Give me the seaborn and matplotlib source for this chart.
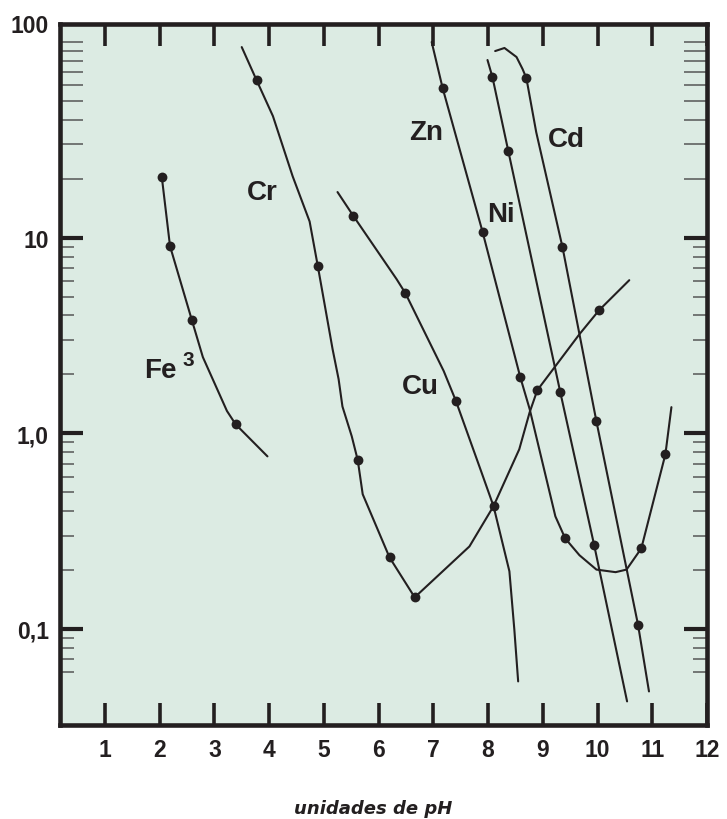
import matplotlib
matplotlib.use("Agg")
import matplotlib.pyplot as plt
import numpy as np
import pandas as pd
import seaborn as sns
from matplotlib.ticker import FixedLocator, NullFormatter

# ---------------- data ----------------
fe_ph = [2.04, 2.19, 2.59, 2.79, 3.23, 3.39, 3.97]
fe_val = [20.4, 9.05, 3.78, 2.45, 1.30, 1.11, 0.762]
fe_dot_ph = [2.04, 2.19, 2.59, 3.39]
fe_dot_val = [20.4, 9.05, 3.78, 1.11]

cr_ph = [3.50, 3.77, 4.07, 4.43, 4.74, 4.89, 5.16, 5.27, 5.34, 5.51, 5.62,
         5.71, 6.20, 6.66, 7.66, 8.10, 8.57, 8.76, 8.90, 9.67, 10.03, 10.58]
cr_val = [94.2, 63.9, 41.8, 20.6, 12.1, 7.15, 2.69, 1.89, 1.37, 0.965, 0.728,
          0.488, 0.232, 0.145, 0.264, 0.424, 0.828, 1.28, 1.66, 3.21, 4.26, 6.06]
cr_dot_ph = [3.77, 4.89, 5.62, 6.20, 6.66, 8.90, 10.03]
cr_dot_val = [63.9, 7.15, 0.728, 0.232, 0.145, 1.66, 4.26]

cu_ph = [5.25, 5.54, 6.33, 6.49, 7.19, 7.41, 7.88, 8.10, 8.39, 8.48, 8.55]
cu_val = [17.1, 12.9, 6.13, 5.2, 2.08, 1.47, 0.632, 0.424, 0.197, 0.0994, 0.0539]
cu_dot_ph = [5.54, 6.49, 7.41, 8.10]
cu_dot_val = [12.9, 5.2, 1.47, 0.424]

zn_ph = [6.97, 7.17, 7.90, 8.59, 8.76, 9.23, 9.41, 9.67, 9.98, 10.33, 10.53,
         10.80, 11.24, 11.35]
zn_val = [100, 58.2, 10.7, 1.93, 1.33, 0.376, 0.290, 0.238, 0.201, 0.195, 0.201,
          0.258, 0.781, 1.36]
zn_dot_ph = [7.17, 7.90, 8.59, 9.41, 10.80, 11.24]
zn_dot_val = [58.2, 10.7, 1.93, 0.290, 0.258, 0.781]

ni_ph = [7.99, 8.08, 8.37, 9.32, 9.94, 10.54]
ni_val = [80.9, 66.2, 27.7, 1.62, 0.267, 0.0426]
ni_dot_ph = [8.08, 8.37, 9.32, 9.94]
ni_dot_val = [66.2, 27.7, 1.62, 0.267]

cd_ph = [8.13, 8.30, 8.52, 8.63, 8.70, 8.88, 9.36, 9.98, 10.74, 10.94]
cd_val = [89.9, 93.2, 83.8, 72.8, 65.4, 34.6, 8.94, 1.15, 0.105, 0.0479]
cd_dot_ph = [8.70, 9.36, 9.98, 10.74]
cd_dot_val = [65.4, 8.94, 1.15, 0.105]

label_text = ["Cr", "Fe", "Zn", "Cd", "Ni", "Cu"]
label_ph = [3.88, 2.02, 6.86, 9.43, 8.24, 6.77]
label_val = [17.1, 2.10, 34.5, 32.0, 13.2, 1.75]
fe_sup = "3"
fe_sup_ph, fe_sup_val = 2.52, 2.38

x_ticks = list(range(1, 13))
y_major = [0.1, 1, 10]
y_major_labels = ["0,1", "1,0", "10"]
top_label = "100"
xlabel = "unidades de pH"

# ---------------- build tables ----------------
series = {
    "Fe": (fe_ph, fe_val, fe_dot_ph, fe_dot_val),
    "Cr": (cr_ph, cr_val, cr_dot_ph, cr_dot_val),
    "Cu": (cu_ph, cu_val, cu_dot_ph, cu_dot_val),
    "Zn": (zn_ph, zn_val, zn_dot_ph, zn_dot_val),
    "Ni": (ni_ph, ni_val, ni_dot_ph, ni_dot_val),
    "Cd": (cd_ph, cd_val, cd_dot_ph, cd_dot_val),
}
lines = pd.concat([pd.DataFrame({"metal": k, "pH": v[0], "c": v[1]})
                   for k, v in series.items()], ignore_index=True)
dots = pd.concat([pd.DataFrame({"metal": k, "pH": v[2], "c": v[3]})
                  for k, v in series.items()], ignore_index=True)

# ---------------- style ----------------
sns.set_theme(style="white")
plt.rcParams["font.family"] = ["Liberation Sans", "DejaVu Sans"]
plt.rcParams["font.weight"] = "bold"

INK = "#231f20"
BG = "#dcebe3"

fig = plt.figure(figsize=(7.27, 8.2), dpi=100)
ax = fig.add_axes([60 / 727, 1 - 725.5 / 820, (707 - 60) / 727, (725.5 - 25) / 820])
ax.set_facecolor(BG)

sns.lineplot(data=lines, x="pH", y="c", units="metal", estimator=None, sort=False,
             color=INK, linewidth=1.5, ax=ax, legend=False)
sns.scatterplot(data=dots, x="pH", y="c", color=INK, s=50, edgecolor=INK,
                linewidth=0, ax=ax, legend=False, zorder=5)

ax.set_yscale("log")
ax.set_xlim(0.18, 12)
ax.set_ylim(0.03246, 123.6)
ax.set_xlabel("")
ax.set_ylabel("")

for sp in ax.spines.values():
    sp.set_linewidth(3.3)
    sp.set_color(INK)
    sp.set_visible(True)

ax.set_xticks(x_ticks)
ax.set_xticklabels([str(t) for t in x_ticks])
ax.yaxis.set_major_locator(FixedLocator(y_major))
ax.set_yticklabels(y_major_labels)
minor_vals = [m * 10.0 ** e for e in (-2, -1, 0, 1) for m in range(2, 10)
              if m * 10.0 ** e >= 0.06] + [100]
ax.yaxis.set_minor_locator(FixedLocator(minor_vals))
ax.yaxis.set_minor_formatter(NullFormatter())
ax.xaxis.set_minor_locator(FixedLocator([]))

ax.tick_params(axis="x", which="major", direction="in", length=16, width=2.6,
               top=True, bottom=True, labelsize=16.5, pad=10, color=INK, labelcolor=INK)
ax.tick_params(axis="y", which="major", direction="in", length=16.5, width=3,
               left=True, right=True, labelsize=16.5, pad=8, color=INK, labelcolor=INK)
ax.tick_params(axis="y", which="minor", direction="in", length=10, width=1.1,
               left=True, right=True, color="#555555")

ax.annotate(top_label, xy=(0, 1), xycoords="axes fraction", xytext=(-8, -1),
            textcoords="offset points", ha="right", va="center",
            fontsize=16.5, fontweight="bold", color=INK)

for t, xp, yp in zip(label_text, label_ph, label_val):
    ax.text(xp, yp, t, ha="center", va="center", fontsize=20,
            fontweight="bold", color=INK)
ax.text(fe_sup_ph, fe_sup_val, fe_sup, ha="center", va="center", fontsize=15,
        fontweight="bold", color=INK)

fig.text(373 / 727, 1 - 809 / 820, xlabel, ha="center", va="center",
         fontsize=13, fontweight="bold", fontstyle="oblique",
         family="DejaVu Sans", color=INK)

fig.canvas.draw()
for tk in ax.yaxis.get_minor_ticks():
    if tk.get_loc() > 10.5:
        tk.tick1line.set_markersize(16.5)
        tk.tick2line.set_markersize(16.5)

fig.savefig("out.png", dpi=100, facecolor="white")
